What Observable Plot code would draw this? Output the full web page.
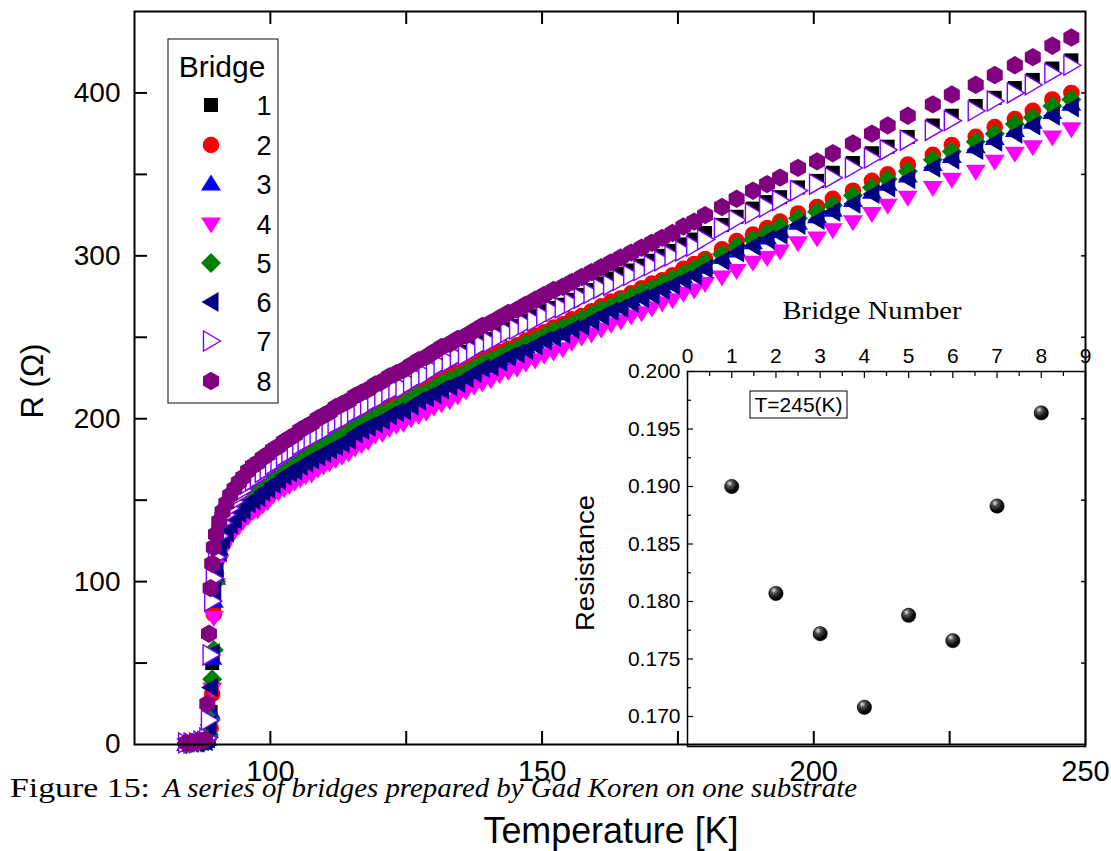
<!DOCTYPE html>
<html><head><meta charset="utf-8">
<script src="https://cdn.jsdelivr.net/npm/d3@7"></script>
<script src="https://cdn.jsdelivr.net/npm/@observablehq/plot@0.6"></script>
<style>
html,body{margin:0;padding:0;background:#fff;}
#wrap{position:relative;width:1111px;height:851px;overflow:hidden;font-family:"Liberation Sans",Arial,sans-serif;}
#main,#inset,#overlay,#defs{position:absolute;left:0;top:0;}
#inset{left:560px;top:290px;}
#overlay{pointer-events:none;}
</style></head><body>
<svg id="defs" width="0" height="0"><defs>
<radialGradient id="ball" cx="0.38" cy="0.32" r="0.68" fx="0.35" fy="0.28">
<stop offset="0" stop-color="#e8e8e8"/><stop offset="0.3" stop-color="#555"/><stop offset="0.7" stop-color="#111"/><stop offset="1" stop-color="#000"/>
</radialGradient></defs></svg>
<div id="wrap"><div id="main"></div><div id="inset"></div><svg id="overlay" width="1111" height="851"></svg></div>
<script>
// ---------------- data ----------------
const temps = [84.5, 85.5, 86.5, 87.3, 88.0, 88.4, 88.7, 89.0, 89.3, 89.6,
 90.0, 90.6, 91.2, 91.9, 92.6, 93.4, 94.2, 95.0, 95.9, 96.8,
 97.7, 98.6, 99.5, 100.5, 101.5, 102.5, 103.5, 104.5, 105.5, 106.5,
 107.6, 108.7, 109.8, 110.9, 112.0, 113.2, 114.4, 115.6, 116.8, 118.0,
 119.3, 120.6, 121.9, 123.2, 124.5, 125.9, 127.3, 128.7, 130.1, 131.5,
 133.0, 134.5, 136.0, 137.5, 139.0, 140.6, 142.2, 143.8, 145.4, 147.0,
 148.7, 150.4, 152.1, 153.8, 155.5, 157.3, 159.1, 160.9, 162.7, 164.5,
 166.4, 168.3, 170.2, 172.1, 174.0, 176.0, 178.0, 180.0, 183.1, 185.8,
 188.8, 191.4, 193.8, 197.1, 200.6, 203.5, 207.2, 210.7, 213.6, 217.3,
 221.9, 225.4, 229.8, 233.3, 237.0, 240.3, 243.9, 247.4];

const r1 = [0,1,1,2,2,3,5,20,50,85,
 110,125,136,141,145,149,153,156,160,162,
 164,167,169,172,174,177,179,181,184,186,
 188,190,192,194,197,199,201,204,206,208,
 211,213,216,218,219,222,225,227,230,233,
 235,238,241,244,247,249,252,255,257,260,
 263,266,268,270,273,276,279,283,286,289,
 291,294,297,300,303,307,310,314,319,324,
 329,333,336,342,346,351,357,363,367,373,
 380,386,392,397,403,408,415,420];
const r2 = [0,1,1,1,2,3,5,10,31,80,
 105,122,130,135,139,143,147,149,153,156,
 157,160,162,165,167,170,172,173,176,178,
 180,183,184,186,189,191,193,196,198,200,
 203,204,207,209,211,214,216,218,221,224,
 226,228,230,233,236,238,241,243,245,248,
 251,253,256,258,261,263,266,269,272,274,
 277,280,283,285,288,292,295,298,304,309,
 313,317,321,326,330,335,340,346,350,356,
 362,368,373,379,384,389,396,400];
const r3 = [0,1,1,1,2,3,8,20,53,88,
 102,120,127,132,136,140,143,146,150,152,
 154,157,158,162,164,166,168,170,173,175,
 176,179,181,183,185,187,189,193,195,196,
 199,201,204,205,207,210,213,214,217,220,
 222,224,227,229,232,234,237,239,241,244,
 247,249,252,254,256,259,262,265,267,270,
 273,275,278,281,284,287,290,293,299,303,
 308,311,315,320,324,328,334,339,344,349,
 356,361,367,372,377,382,388,393];
const r4 = [0,1,1,1,2,3,5,12,34,78,
 98,112,119,124,128,131,134,137,140,143,
 144,147,149,153,155,157,159,161,163,165,
 166,169,171,173,175,177,179,182,184,186,
 190,191,194,196,197,200,202,204,207,209,
 211,214,217,220,222,224,227,229,231,234,
 236,239,241,243,247,250,252,255,258,260,
 263,265,268,271,273,277,279,283,287,291,
 296,299,303,308,311,316,321,326,331,336,
 342,347,352,358,363,367,373,378];
const r5 = [0,1,1,1,2,3,6,15,40,58,
 100,121,129,133,138,142,145,148,152,154,
 156,159,161,164,166,168,170,172,175,176,
 178,181,183,185,187,189,191,195,196,198,
 201,203,205,207,209,212,215,216,219,222,
 224,226,228,231,234,236,238,241,243,246,
 248,251,254,256,258,261,264,267,269,272,
 275,278,280,283,286,289,292,296,301,306,
 310,314,318,323,327,331,337,342,347,352,
 359,364,370,375,381,385,392,396];
const r6 = [1,1,1,2,2,4,12,35,56,94,
 106,118,126,130,135,138,142,144,148,150,
 152,155,157,160,162,165,167,168,171,173,
 175,177,179,181,183,185,187,191,193,195,
 197,199,202,204,205,208,211,213,215,218,
 220,222,225,228,231,232,235,238,240,242,
 245,248,250,252,255,257,260,263,266,268,
 271,274,276,279,282,285,288,292,297,302,
 306,310,313,319,322,327,332,338,342,347,
 354,359,365,370,375,380,386,391];
const r7 = [1,1,1,2,2,4,15,55,88,102,
 115,128,136,141,145,149,153,156,160,162,
 164,167,169,172,174,177,179,181,184,186,
 188,190,192,194,197,199,201,204,206,208,
 211,213,216,218,219,222,225,227,230,233,
 235,238,239,242,245,247,250,253,255,258,
 260,263,266,268,271,274,277,280,282,285,
 288,291,294,297,300,303,306,310,317,322,
 326,330,334,340,344,348,354,360,365,371,
 377,383,389,395,400,405,412,417];
const r8 = [1,1,2,2,3,25,68,96,111,121,
 129,137,143,148,153,157,161,164,168,171,
 173,176,178,181,183,186,188,190,193,195,
 197,200,202,204,207,209,211,214,216,218,
 221,223,226,228,230,233,236,238,241,244,
 246,249,251,254,257,259,262,265,267,270,
 273,276,279,281,284,287,290,293,296,299,
 302,305,308,311,314,318,321,325,330,335,
 340,344,348,354,358,363,369,375,380,386,
 393,399,405,411,417,422,429,434];

const bridgeNames = ["1","2","3","4","5","6","7","8"];
const bridgeNumbers = [1,2,3,4,5,6,7,8];
const insetResistance = [0.1900,0.1807,0.1772,0.1708,0.1788,0.1766,0.1883,0.1964];

const xTickAll = [100,125,150,175,200,225];
const xTickLabels = [100,150,200,250];
const yTickAll = [50,100,150,200,250,300,350,400];
const yTickLabels = [0,100,200,300,400];
const insetXTicks = [0,1,2,3,4,5,6,7,8,9];
const insetXMinor = [0.5,1.5,2.5,3.5,4.5,5.5,6.5,7.5,8.5];
const insetYTicks = [0.170,0.175,0.180,0.185,0.190,0.195,0.200];
const insetYMinor = [0.1725,0.1775,0.1825,0.1875,0.1925,0.1975];

// ---------------- symbols ----------------
const poly = pts => ({draw(ctx){ctx.moveTo(pts[0][0],pts[0][1]);for(let i=1;i<pts.length;i++)ctx.lineTo(pts[i][0],pts[i][1]);ctx.closePath();}});
const circ = rad => ({draw(ctx){ctx.moveTo(rad,0);ctx.arc(0,0,rad,0,2*Math.PI);ctx.closePath();}});
const symSquare = poly([[-7,-7],[7,-7],[7,7],[-7,7]]);
const symCircle = circ(8.3);
const symUp = poly([[0,-9.5],[10,6.5],[-10,6.5]]);
const symDown = poly([[0,9.5],[10,-6.5],[-10,-6.5]]);
const symDiamond = poly([[0,-10],[10,0],[0,10],[-10,0]]);
const symLeft = poly([[-9.5,0],[7.5,-10],[7.5,10]]);
const symRight = poly([[9.5,0],[-7.5,-10],[-7.5,10]]);
const symHex = poly([[0,-9.2],[8,-4.6],[8,4.6],[0,9.2],[-8,4.6],[-8,-4.6]]);

const styles = [
  {symbol: symSquare, fill: "#000000", stroke: "none", sw: 0},
  {symbol: symCircle, fill: "#ff0000", stroke: "none", sw: 0},
  {symbol: symUp, fill: "#0000ff", stroke: "none", sw: 0},
  {symbol: symDown, fill: "#ff00ff", stroke: "none", sw: 0},
  {symbol: symDiamond, fill: "#008000", stroke: "none", sw: 0},
  {symbol: symLeft, fill: "#000080", stroke: "none", sw: 0},
  {symbol: symRight, fill: "#ffffff", stroke: "#8000ff", sw: 1.4},
  {symbol: symHex, fill: "#800080", stroke: "none", sw: 0}
];
const seriesR = [r1,r2,r3,r4,r5,r6,r7,r8];

const font = "Liberation Sans, Arial, sans-serif";

// ---------------- main plot ----------------
const seriesMarks = seriesR.map((vals, i) => Plot.dot(
  temps.map((t, j) => ({T: t, R: vals[j], bridge: bridgeNames[i]})),
  {x: "T", y: "R", symbol: styles[i].symbol, fill: styles[i].fill, stroke: styles[i].stroke, strokeWidth: styles[i].sw, r: 6}
));

const main = Plot.plot({
  width: 1111, height: 851,
  marginLeft: 134, marginRight: 26, marginTop: 11, marginBottom: 107,
  x: {domain: [75, 250], axis: null},
  y: {domain: [0, 450], axis: null},
  style: {background: "transparent", fontFamily: font, overflow: "visible"},
  marks: [
    ...seriesMarks,
    Plot.axisX(xTickAll, {anchor: "bottom", tickSize: 13, dy: -13, tickFormat: () => "", label: null, strokeWidth: 2}),
    Plot.axisX(xTickAll, {anchor: "top", tickSize: 12, dy: 12, tickFormat: () => "", label: null, strokeWidth: 2}),
    Plot.axisY(yTickAll, {anchor: "left", tickSize: 13, dx: 13, tickFormat: () => "", label: null, strokeWidth: 2}),
    Plot.axisY(yTickAll, {anchor: "right", tickSize: 5, dx: -5, tickFormat: () => "", label: null, strokeWidth: 1.5}),
    Plot.axisX(xTickLabels, {anchor: "bottom", tickSize: 0, tickPadding: 16, fontSize: 29, label: null, tickFormat: d => String(d)}),
    Plot.axisY(yTickLabels, {anchor: "left", tickSize: 0, tickPadding: 14, fontSize: 28, label: null, tickFormat: d => String(d)}),
    Plot.frame({stroke: "black", strokeWidth: 2})
  ]
});
document.getElementById("main").appendChild(main);

// ---------------- inset plot ----------------
const insetRows = bridgeNumbers.map((b, i) => ({bridge: b, resistance: insetResistance[i]}));
const inset = Plot.plot({
  width: 540, height: 470,
  marginLeft: 127, marginRight: 15, marginTop: 81, marginBottom: 14,
  x: {domain: [0, 9], axis: null},
  y: {domain: [0.16739, 0.2], axis: null},
  style: {background: "transparent", fontFamily: font, overflow: "visible"},
  marks: [
    Plot.axisX(insetXTicks, {anchor: "top", tickSize: 6, dy: 6, tickFormat: () => "", label: null, strokeWidth: 1.2}),
    Plot.axisX(insetXMinor, {anchor: "top", tickSize: 4, dy: 4, tickFormat: () => "", label: null, strokeWidth: 1.2}),
    Plot.axisX(insetXTicks, {anchor: "top", tickSize: 0, tickPadding: 9, fontSize: 21, label: null, tickFormat: d => String(d)}),
    Plot.axisY(insetYTicks, {anchor: "left", tickSize: 6, dx: 6, tickFormat: () => "", label: null, strokeWidth: 1.2}),
    Plot.axisY(insetYMinor, {anchor: "left", tickSize: 4, dx: 4, tickFormat: () => "", label: null, strokeWidth: 1.2}),
    Plot.axisY(insetYTicks, {anchor: "left", tickSize: 0, tickPadding: 7, fontSize: 21, label: null, tickFormat: d => d.toFixed(3)}),
    Plot.dot(insetRows, {x: "bridge", y: "resistance", r: 7.2, fill: "url(#ball)", stroke: "#000", strokeWidth: 0.5}),
    Plot.frame({stroke: "black", strokeWidth: 1.5})
  ]
});
document.getElementById("inset").appendChild(inset);

// ---------------- overlay: titles, legend, caption ----------------
const ov = d3.select("#overlay");
// legend
const lg = ov.append("g");
lg.append("rect").attr("x", 168).attr("y", 39).attr("width", 110).attr("height", 364)
  .attr("fill", "#fff").attr("stroke", "#333").attr("stroke-width", 1.2);
lg.append("text").attr("x", 222).attr("y", 77).attr("text-anchor", "middle")
  .attr("font-family", font).attr("font-size", 30).text("Bridge");
const rowY = [105, 145, 184, 224, 263, 302, 341, 381];
bridgeNames.forEach((name, i) => {
  const st = styles[i];
  lg.append("path").attr("transform", `translate(211,${rowY[i]})`)
    .attr("d", d3.symbol().type(st.symbol)())
    .attr("fill", st.fill).attr("stroke", st.stroke).attr("stroke-width", st.sw);
  lg.append("text").attr("x", 264).attr("y", rowY[i] + 10).attr("text-anchor", "middle")
    .attr("font-family", font).attr("font-size", 27).text(name);
});
// axis titles
ov.append("text").attr("transform", "translate(43,381) rotate(-90)").attr("text-anchor", "middle")
  .attr("font-family", font).attr("font-size", 31).text("R (Ω)");
ov.append("text").attr("x", 611).attr("y", 843).attr("text-anchor", "middle")
  .attr("font-family", font).attr("font-size", 36).attr("textLength", 255).attr("lengthAdjust", "spacingAndGlyphs")
  .text("Temperature [K]");
// inset titles
ov.append("text").attr("x", 872).attr("y", 319).attr("text-anchor", "middle")
  .attr("font-family", "Liberation Serif, Times New Roman, serif").attr("font-size", 26)
  .attr("textLength", 179).attr("lengthAdjust", "spacingAndGlyphs").text("Bridge Number");
ov.append("text").attr("transform", "translate(594,563) rotate(-90)").attr("text-anchor", "middle")
  .attr("font-family", font).attr("font-size", 25).attr("textLength", 136).attr("lengthAdjust", "spacingAndGlyphs")
  .text("Resistance");
ov.append("rect").attr("x", 750).attr("y", 391).attr("width", 97).attr("height", 27)
  .attr("fill", "none").attr("stroke", "#000").attr("stroke-width", 1);
ov.append("text").attr("x", 798.5).attr("y", 412).attr("text-anchor", "middle")
  .attr("font-family", font).attr("font-size", 21).text("T=245(K)");
// caption
ov.append("text").attr("x", 10).attr("y", 797)
  .attr("font-family", "Liberation Serif, DejaVu Serif, serif").attr("font-size", 28)
  .attr("textLength", 140).attr("lengthAdjust", "spacingAndGlyphs").text("Figure 15:");
ov.append("text").attr("x", 163).attr("y", 797)
  .attr("font-family", "Liberation Serif, DejaVu Serif, serif").attr("font-size", 28).attr("font-style", "italic")
  .attr("textLength", 694).attr("lengthAdjust", "spacingAndGlyphs")
  .text("A series of bridges prepared by Gad Koren on one substrate");
</script>
</body></html>
